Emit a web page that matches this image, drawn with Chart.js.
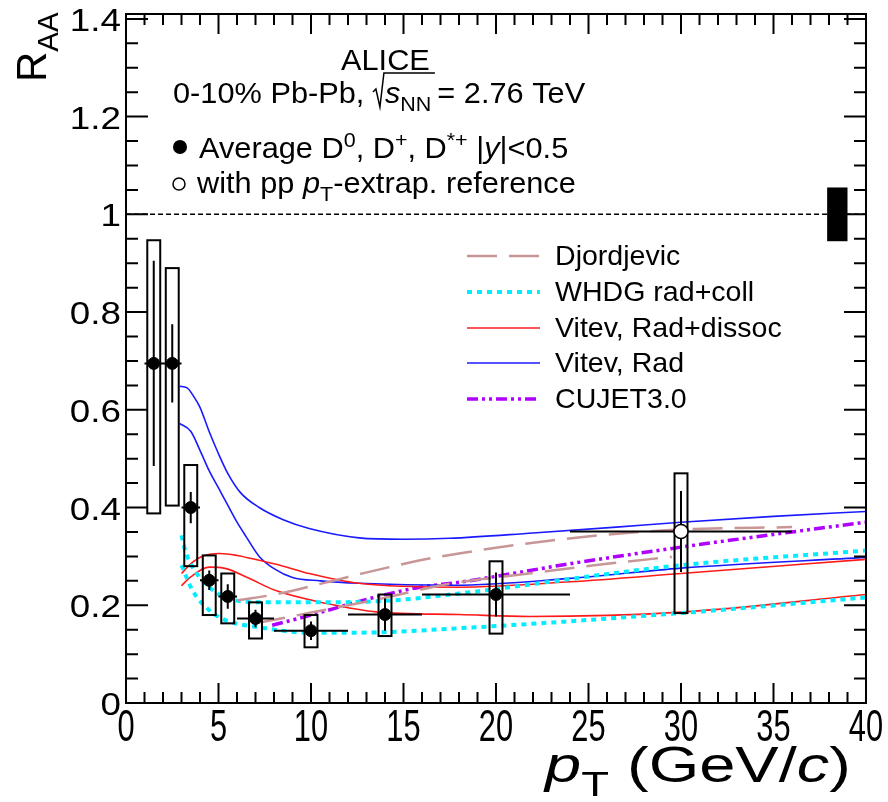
<!DOCTYPE html>
<html>
<head>
<meta charset="utf-8">
<script src="https://cdn.jsdelivr.net/npm/chart.js@4"></script>
<style>
  body { margin: 0; background: #fff; }
  canvas { display: block; }
</style>
</head>
<body>
<canvas id="chartRaa" width="888" height="802"></canvas>
<script>
// ALICE prompt D-meson R_AA, 0-10% Pb-Pb at 2.76 TeV

// measured points
const ptData = [1.5, 2.5, 3.5, 4.5, 5.5, 7, 10, 14, 20];
const raaData = [0.695, 0.695, 0.40, 0.251, 0.218, 0.173, 0.148, 0.181, 0.222];
const statData = [0.21, 0.08, 0.032, 0.02, 0.025, 0.018, 0.019, 0.033, 0.045];
const binLow = [1, 2, 3, 4, 5, 6, 8, 12, 16];
const binHigh = [2, 3, 4, 5, 6, 8, 12, 16, 24];
const systLow = [0.388, 0.404, 0.28, 0.18, 0.163, 0.132, 0.114, 0.137, 0.142];
const systHigh = [0.947, 0.89, 0.487, 0.302, 0.265, 0.206, 0.18, 0.222, 0.29];

// point with pp pT-extrapolated reference
const ptExtrap = [30];
const raaExtrap = [0.351];
const statExtrap = [0.083];
const binLowExtrap = [24];
const binHighExtrap = [36];
const systLowExtrap = [0.184];
const systHighExtrap = [0.47];

// normalisation uncertainty box drawn at R_AA = 1
const normPt = [37.9, 39.0];
const normUnc = 0.055;

// model curves, [pT, R_AA]
const djordjevicHi = [[6, 0.21], [8.3, 0.224], [12, 0.258], [15.9, 0.292], [18, 0.306], [21.8, 0.327], [26.1, 0.345], [30, 0.355], [36, 0.36]];
const djordjevicLo = [[7, 0.163], [10, 0.185], [13.6, 0.212], [17.5, 0.244], [22, 0.266], [26, 0.285], [29.5, 0.299]];
const whdgHi = [[3.0, 0.343], [3.2, 0.312], [3.6, 0.278], [4.5, 0.237], [5.4, 0.216], [7.2, 0.206], [10.8, 0.206], [14.4, 0.21], [18, 0.224], [30, 0.282], [40, 0.312]];
const whdgLo = [[3.0, 0.282], [3.6, 0.23], [4.5, 0.19], [5.4, 0.169], [7.2, 0.155], [9.9, 0.144], [12.6, 0.144], [18, 0.153], [30, 0.184], [40, 0.216]];
const vitevDissocHi = [[3.0, 0.265], [3.5, 0.285], [4.1, 0.30], [5.05, 0.306], [6, 0.302], [7.2, 0.292], [8.5, 0.28], [9.9, 0.265], [12.6, 0.245], [18, 0.237], [24, 0.248], [30, 0.265], [40, 0.294]];
const vitevDissocLo = [[3.0, 0.24], [3.5, 0.258], [4.5, 0.278], [5.4, 0.275], [6.5, 0.258], [8.1, 0.23], [10.8, 0.204], [13.6, 0.186], [18, 0.181], [21.8, 0.177], [30, 0.186], [40, 0.222]];
const vitevRadHi = [[2.9, 0.648], [3.3, 0.645], [3.7, 0.625], [4.0, 0.605], [4.5, 0.555], [5.0, 0.51], [5.5, 0.47], [6.2, 0.43], [7.2, 0.40], [8.5, 0.375], [9.9, 0.357], [12.6, 0.338], [15, 0.335], [17.5, 0.337], [22, 0.348], [26.5, 0.36], [30, 0.37], [35, 0.382], [40, 0.392]];
const vitevRadLo = [[2.9, 0.572], [3.5, 0.556], [4.0, 0.517], [4.5, 0.475], [5.0, 0.44], [5.5, 0.405], [6.0, 0.37], [6.5, 0.34], [7.2, 0.30], [8, 0.275], [9, 0.257], [10.5, 0.25], [12.6, 0.245], [17.7, 0.241], [24, 0.255], [30, 0.276], [40, 0.298]];
const cujet = [[7.9, 0.159], [10, 0.18], [13.4, 0.216], [15.9, 0.237], [18, 0.247], [24, 0.285], [30, 0.319], [35, 0.345], [40, 0.37]];

// axes
const xTicks = [0, 5, 10, 15, 20, 25, 30, 35, 40];
const yTicks = [0, 0.2, 0.4, 0.6, 0.8, 1, 1.2, 1.4];
const yTickLabels = ["0", "0.2", "0.4", "0.6", "0.8", "1", "1.2", "1.4"];

const FONT = "'Liberation Sans', Arial, Helvetica, sans-serif";

const toXY = pts => pts.map(p => ({ x: p[0], y: p[1] }));

function curve(label, pts, color, dash, width) {
  return {
    label: label,
    data: toXY(pts),
    showLine: true,
    borderColor: color,
    borderWidth: width,
    borderDash: dash,
    pointRadius: 0,
    fill: false,
    cubicInterpolationMode: "monotone",
    order: 3
  };
}

const styles = {
  djordjevic: ["#c89696", [30, 12], 2.5],
  whdg: ["#00eeff", [5, 5], 4],
  vitevDissoc: ["#ff1a1a", [], 1.6],
  vitevRad: ["#1a1aff", [], 1.6],
  cujet: ["#b000ff", [11, 4, 3, 4, 3, 4], 3.5]
};

function drawErrors(chart, pts, vals, errs, lo, hi, sLo, sHi) {
  const ctx = chart.ctx, x = chart.scales.x, y = chart.scales.y;
  ctx.save();
  ctx.strokeStyle = "#000";
  ctx.lineWidth = 2;
  pts.forEach((pt, i) => {
    // systematic box
    const x0 = x.getPixelForValue(pt - 0.35), x1 = x.getPixelForValue(pt + 0.35);
    const y0 = y.getPixelForValue(sHi[i]), y1 = y.getPixelForValue(sLo[i]);
    ctx.strokeRect(x0, y0, x1 - x0, y1 - y0);
    // bin width
    ctx.beginPath();
    ctx.moveTo(x.getPixelForValue(lo[i]), y.getPixelForValue(vals[i]));
    ctx.lineTo(x.getPixelForValue(hi[i]), y.getPixelForValue(vals[i]));
    // statistical
    ctx.moveTo(x.getPixelForValue(pt), y.getPixelForValue(vals[i] - errs[i]));
    ctx.lineTo(x.getPixelForValue(pt), y.getPixelForValue(vals[i] + errs[i]));
    ctx.stroke();
  });
  ctx.restore();
}

// text with italic / sub / superscript pieces
function richText(ctx, x, y, parts, size) {
  parts.forEach(p => {
    let s = size, dy = 0, italic = false;
    if (p.s === "sub") { s = size * 0.7; dy = size * 0.28; }
    if (p.s === "sup") { s = size * 0.7; dy = -size * 0.38; }
    if (p.i) italic = true;
    ctx.font = (italic ? "italic " : "") + s + "px " + FONT;
    ctx.fillText(p.t, x, y + dy);
    x += ctx.measureText(p.t).width;
  });
  return x;
}

// same, squeezed or stretched horizontally by sx
function wideText(ctx, x, y, parts, size, sx) {
  ctx.save();
  ctx.translate(x, y);
  ctx.scale(sx, 1);
  const end = richText(ctx, 0, 0, parts, size);
  ctx.restore();
  return x + end * sx;
}

const rootStyle = {
  id: "rootStyle",
  beforeDatasetDraw(chart, args) {
    if (chart.data.datasets[args.index].label !== "extrap") return;
    drawErrors(chart, ptData, raaData, statData, binLow, binHigh, systLow, systHigh);
    drawErrors(chart, ptExtrap, raaExtrap, statExtrap, binLowExtrap, binHighExtrap, systLowExtrap, systHighExtrap);
  },
  afterDraw(chart) {
    const ctx = chart.ctx, a = chart.chartArea;
    const x = chart.scales.x, y = chart.scales.y;
    ctx.save();

    // normalisation box
    ctx.fillStyle = "#000";
    const nx0 = x.getPixelForValue(normPt[0]), nx1 = x.getPixelForValue(normPt[1]);
    const ny0 = y.getPixelForValue(1 + normUnc), ny1 = y.getPixelForValue(1 - normUnc);
    ctx.fillRect(nx0, ny0, nx1 - nx0, ny1 - ny0);

    // frame
    ctx.strokeStyle = "#000";
    ctx.lineWidth = 2;
    ctx.strokeRect(a.left, a.top, a.right - a.left, a.bottom - a.top);

    // ticks, inward on all sides
    ctx.beginPath();
    for (let v = 0; v <= 40; v++) {
      const px = x.getPixelForValue(v);
      const len = v % 5 === 0 ? 20 : 11;
      ctx.moveTo(px, a.bottom); ctx.lineTo(px, a.bottom - len);
      ctx.moveTo(px, a.top); ctx.lineTo(px, a.top + len);
    }
    for (let k = 0; k <= 28; k++) {
      const py = y.getPixelForValue(k * 0.05);
      const len = k % 4 === 0 ? 22 : 12;
      ctx.moveTo(a.left, py); ctx.lineTo(a.left + len, py);
      ctx.moveTo(a.right, py); ctx.lineTo(a.right - len, py);
    }
    ctx.stroke();

    // tick labels
    ctx.fillStyle = "#000";
    ctx.textBaseline = "alphabetic";
    ctx.textAlign = "right";
    yTicks.forEach((v, i) => {
      ctx.save();
      ctx.translate(a.left - 5, y.getPixelForValue(v) + 12);
      ctx.scale(1.15, 1);
      ctx.font = "32px " + FONT;
      ctx.fillText(yTickLabels[i], 0, 0);
      ctx.restore();
    });
    ctx.textAlign = "center";
    xTicks.forEach(v => {
      ctx.save();
      ctx.translate(x.getPixelForValue(v), a.bottom + 38);
      ctx.scale(0.7, 1);
      ctx.font = "44px " + FONT;
      ctx.fillText(String(v), 0, 0);
      ctx.restore();
    });

    // axis titles
    ctx.textAlign = "left";
    ctx.save();
    ctx.translate(46, 82);
    ctx.rotate(-Math.PI / 2);
    richText(ctx, 0, 0, [{ t: "R" }, { t: "AA", s: "sub" }], 42);
    ctx.restore();

    wideText(ctx, 545, 782, [{ t: "p", i: true }, { t: "T", s: "sub" }, { t: " (GeV/" }, { t: "c", i: true }, { t: ")" }], 50, 1.3);

    // header text
    const hs = 1.06;
    wideText(ctx, 341, 70, [{ t: "ALICE" }], 29, hs);
    let cx = wideText(ctx, 173, 103, [{ t: "0-10% Pb-Pb, " }], 29, hs);
    // radical sign
    ctx.lineWidth = 1.5;
    ctx.beginPath();
    ctx.moveTo(cx, 92); ctx.lineTo(cx + 3, 89);
    ctx.lineTo(cx + 7, 107); ctx.lineTo(cx + 11, 73); ctx.lineTo(cx + 62, 73);
    ctx.stroke();
    cx = wideText(ctx, cx + 12, 103, [{ t: "s", i: true }, { t: "NN", s: "sub" }], 29, hs);
    wideText(ctx, cx + 6, 103, [{ t: "= 2.76 TeV" }], 29, hs);

    ctx.beginPath();
    ctx.arc(180, 147, 7, 0, Math.PI * 2);
    ctx.fill();
    wideText(ctx, 199, 158, [{ t: "Average D" }, { t: "0", s: "sup" }, { t: ", D" }, { t: "+", s: "sup" }, { t: ", D" }, { t: "*+", s: "sup" }, { t: " |" }, { t: "y", i: true }, { t: "|<0.5" }], 29, hs);

    ctx.lineWidth = 1.5;
    ctx.beginPath();
    ctx.arc(179, 184, 6, 0, Math.PI * 2);
    ctx.stroke();
    wideText(ctx, 197, 193, [{ t: "with pp " }, { t: "p", i: true }, { t: "T", s: "sub" }, { t: "-extrap. reference" }], 29, hs);

    // model legend
    const legend = [
      ["Djordjevic", styles.djordjevic, 256],
      ["WHDG rad+coll", styles.whdg, 292],
      ["Vitev, Rad+dissoc", styles.vitevDissoc, 328],
      ["Vitev, Rad", styles.vitevRad, 363],
      ["CUJET3.0", styles.cujet, 399]
    ];
    legend.forEach(([label, st, ly]) => {
      ctx.save();
      ctx.strokeStyle = st[0];
      ctx.setLineDash(st[1]);
      ctx.lineWidth = st[2];
      ctx.beginPath();
      ctx.moveTo(467, ly); ctx.lineTo(540, ly);
      ctx.stroke();
      ctx.restore();
      wideText(ctx, 555, ly + 9, [{ t: label }], 28, 1.02);
    });

    ctx.restore();
  }
};

new Chart(document.getElementById("chartRaa"), {
  type: "scatter",
  data: {
    datasets: [
      {
        label: "avg",
        data: ptData.map((p, i) => ({ x: p, y: raaData[i] })),
        pointRadius: 6,
        pointBackgroundColor: "#000",
        pointBorderColor: "#000",
        order: 0
      },
      {
        label: "extrap",
        data: ptExtrap.map((p, i) => ({ x: p, y: raaExtrap[i] })),
        pointRadius: 7,
        pointBackgroundColor: "#fff",
        pointBorderColor: "#000",
        pointBorderWidth: 1.5,
        order: 1
      },
      {
        label: "unity",
        data: [{ x: 0, y: 1 }, { x: 40, y: 1 }],
        showLine: true,
        borderColor: "#000",
        borderWidth: 1.5,
        borderDash: [5, 3],
        pointRadius: 0,
        order: 2
      },
      curve("Djordjevic", djordjevicHi, ...styles.djordjevic),
      curve("Djordjevic", djordjevicLo, ...styles.djordjevic),
      curve("WHDG", whdgHi, ...styles.whdg),
      curve("WHDG", whdgLo, ...styles.whdg),
      curve("Vitev dissoc", vitevDissocHi, ...styles.vitevDissoc),
      curve("Vitev dissoc", vitevDissocLo, ...styles.vitevDissoc),
      curve("Vitev rad", vitevRadHi, ...styles.vitevRad),
      curve("Vitev rad", vitevRadLo, ...styles.vitevRad),
      curve("CUJET3.0", cujet, ...styles.cujet)
    ]
  },
  options: {
    responsive: false,
    animation: false,
    devicePixelRatio: 1,
    layout: { padding: { left: 126, right: 22, top: 14, bottom: 99 } },
    plugins: { legend: { display: false }, tooltip: { enabled: false } },
    scales: {
      x: { type: "linear", min: 0, max: 40, display: false },
      y: { type: "linear", min: 0, max: 1.41, display: false }
    }
  },
  plugins: [rootStyle]
});
</script>
</body>
</html>
